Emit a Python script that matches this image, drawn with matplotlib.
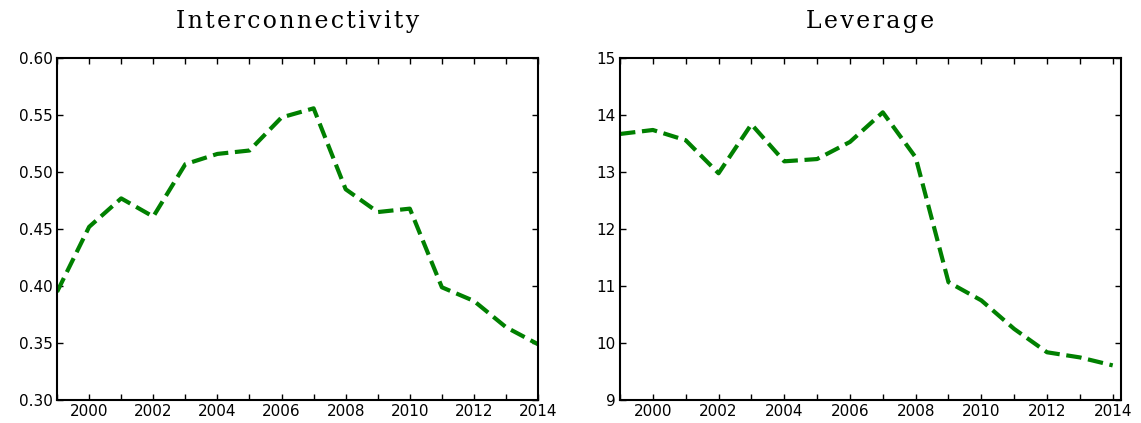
import matplotlib
matplotlib.use("Agg")
import matplotlib.pyplot as plt
from matplotlib.ticker import MultipleLocator

years = list(range(1999, 2015))
interconnectivity = [0.395, 0.452, 0.477, 0.461, 0.507, 0.516, 0.519, 0.548,
                     0.556, 0.485, 0.465, 0.468, 0.399, 0.387, 0.364, 0.349]
leverage = [13.67, 13.74, 13.56, 12.98, 13.84, 13.19, 13.23, 13.53,
            14.05, 13.26, 11.07, 10.75, 10.25, 9.84, 9.75, 9.61]

fig = plt.figure(figsize=(11.41, 4.23), dpi=100)
ax1 = fig.add_axes([0.050, 0.054, 0.4216, 0.8085])
ax2 = fig.add_axes([0.5434, 0.054, 0.439, 0.8085])

def style(ax, title):
    ax.xaxis.set_major_locator(MultipleLocator(2))
    ax.xaxis.set_minor_locator(MultipleLocator(1))
    ax.tick_params(which='both', direction='in', top=True, right=True,
                   length=4, width=1, labelsize=11, pad=3)
    for s in ax.spines.values():
        s.set_linewidth(1.5)
    # spaced-out title lettering
    ax.set_title('\u200a'.join(title), fontsize=17, family='DejaVu Serif', pad=22)

# Interconnectivity panel
ax1.plot(years, interconnectivity, color='green', linestyle='--', linewidth=3)
ax1.set_xlim(1999, 2014)
ax1.set_ylim(0.30, 0.60)
ax1.yaxis.set_major_locator(MultipleLocator(0.05))
ax1.yaxis.set_major_formatter(matplotlib.ticker.FormatStrFormatter('%.2f'))
style(ax1, 'Interconnectivity')

# Leverage panel
ax2.plot(years, leverage, color='green', linestyle='--', linewidth=3)
ax2.set_xlim(1999, 2014.25)
ax2.set_ylim(9, 15)
ax2.yaxis.set_major_locator(MultipleLocator(1))
style(ax2, 'Leverage')

fig.savefig('out.png', dpi=100)
